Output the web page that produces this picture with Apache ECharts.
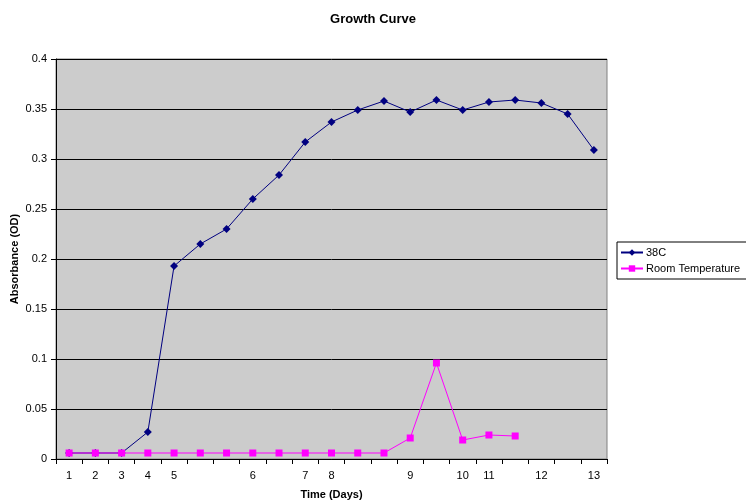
<!DOCTYPE html>
<html>
<head>
<meta charset="utf-8">
<script src="https://cdn.jsdelivr.net/npm/echarts@6/dist/echarts.min.js"></script>
<style>
  html, body { margin: 0; padding: 0; background: #fff; }
  #chartRoot { width: 746px; height: 502px; }
</style>
</head>
<body>
<div id="chartRoot"></div>
<script>
// x positions (only some carry a day label)
const dayLabels = ["1", "2", "3", "4", "5", "", "", "6", "", "7", "8", "", "", "9", "", "10", "11", "", "12", "", "13"];

const values38C = [0.006, 0.006, 0.006, 0.027, 0.193, 0.215, 0.230, 0.260, 0.284, 0.317, 0.337,
    0.349, 0.358, 0.347, 0.359, 0.349, 0.357, 0.359, 0.356, 0.345, 0.309];

const valuesRoom = [0.006, 0.006, 0.006, 0.006, 0.006, 0.006, 0.006, 0.006, 0.006, 0.006, 0.006,
    0.006, 0.006, 0.021, 0.096, 0.019, 0.024, 0.023, null, null, null];

const yTicks = [0, 0.05, 0.1, 0.15, 0.2, 0.25, 0.3, 0.35, 0.4];

const font = "Liberation Sans, Arial, sans-serif";

let myChart = echarts.init(document.querySelector("#chartRoot"));
let option = {
    animation: false,
    backgroundColor: "#fff",
    title: {
        text: "Growth Curve",
        left: "center",
        top: 8,
        textStyle: { fontFamily: font, fontSize: 13, fontWeight: "bold", color: "#000" }
    },
    legend: {
        orient: "vertical",
        left: 617,
        top: 242,
        itemGap: 5,
        itemWidth: 22,
        itemHeight: 8,
        padding: [5, 12, 5, 3],
        borderColor: "#000",
        borderWidth: 1,
        backgroundColor: "#fff",
        textStyle: { fontFamily: font, fontSize: 11, color: "#000", padding: [0, 0, 0, -2] },
        data: ["38C", "Room Temperature"]
    },
    grid: {
        left: 56,
        right: 139,
        top: 59,
        bottom: 43,
        outerBoundsMode: "none",
        containLabel: false,
        show: true,
        backgroundColor: "#cccccc",
        borderColor: "#808080",
        borderWidth: 1
    },
    xAxis: {
        type: "category",
        data: dayLabels,
        boundaryGap: true,
        name: "Time (Days)",
        nameLocation: "middle",
        nameGap: 30,
        nameMoveOverlap: false,
        nameTextStyle: { fontFamily: font, fontSize: 11, fontWeight: "bold", color: "#000" },
        axisLine: { lineStyle: { color: "#000", width: 1 } },
        axisTick: { show: true, inside: false, length: 5, alignWithLabel: false, interval: 0, lineStyle: { color: "#000" } },
        axisLabel: { interval: 0, fontFamily: font, fontSize: 11, color: "#000", margin: 11 },
        splitLine: { show: false }
    },
    yAxis: {
        type: "value",
        min: 0,
        max: 0.4,
        interval: 0.05,
        name: "Absorbance (OD)",
        nameLocation: "middle",
        nameRotate: 90,
        nameGap: 36,
        nameMoveOverlap: false,
        nameTextStyle: { fontFamily: font, fontSize: 11, fontWeight: "bold", color: "#000" },
        axisLine: { show: true, lineStyle: { color: "#000", width: 1 } },
        axisTick: { show: true, length: 5, lineStyle: { color: "#000" } },
        axisLabel: {
            fontFamily: font, fontSize: 11, color: "#000", margin: 9,
            formatter: v => {
                let t = yTicks.find(k => Math.abs(k - v) < 1e-9);
                return t === undefined ? "" : String(t);
            }
        },
        splitLine: { show: true, lineStyle: { color: "#000", width: 1 } }
    },
    series: [
        {
            name: "38C",
            type: "line",
            data: values38C,
            symbol: "diamond",
            symbolSize: 8,
            color: "#000080",
            lineStyle: { color: "#000080", width: 1 },
            itemStyle: { color: "#000080" },
            z: 2
        },
        {
            name: "Room Temperature",
            type: "line",
            data: valuesRoom,
            symbol: "rect",
            symbolSize: 7,
            connectNulls: false,
            color: "#ff00ff",
            lineStyle: { color: "#ff00ff", width: 1 },
            itemStyle: { color: "#ff00ff" },
            z: 3
        }
    ]
};
myChart.setOption(option, true);
</script>
</body>
</html>
